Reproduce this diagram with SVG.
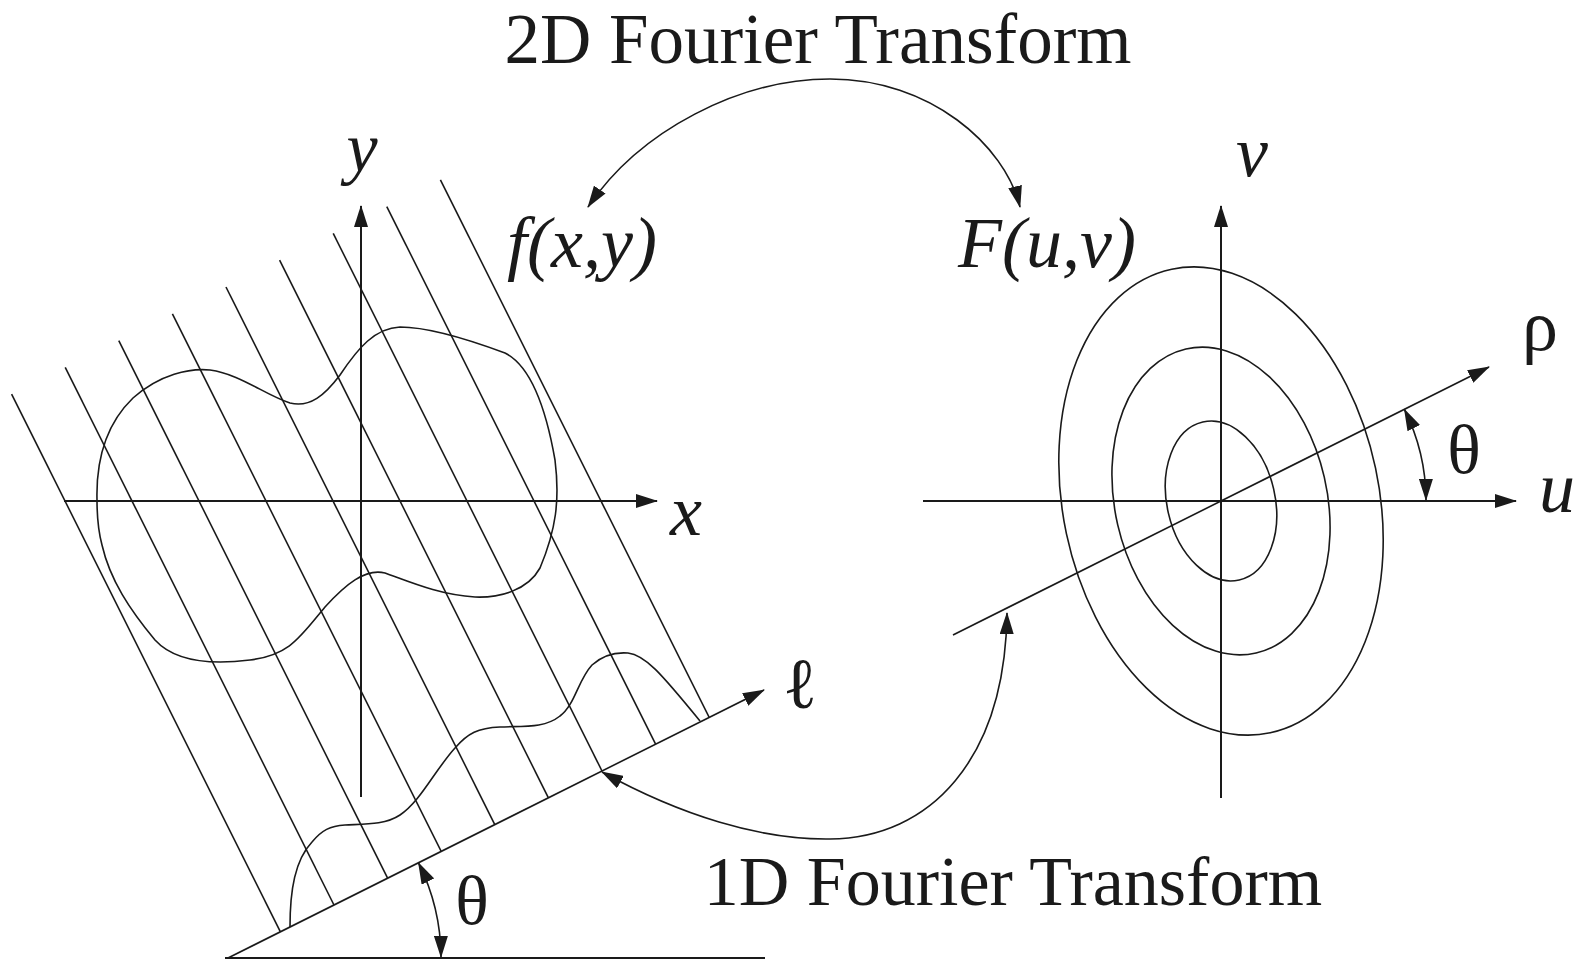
<svg xmlns="http://www.w3.org/2000/svg" width="1582" height="960" viewBox="0 0 1582 960">
<defs>
<marker id="arr" markerUnits="userSpaceOnUse" markerWidth="22" markerHeight="14" refX="21" refY="7" orient="auto-start-reverse" viewBox="0 0 22 14">
<path d="M0,0 L22,7 L0,14 Z" fill="#1a1a1a"/>
</marker>
<style>
.ax{stroke:#1a1a1a;stroke-width:2;fill:none}
.th{stroke:#1a1a1a;stroke-width:1.6;fill:none}
.lbl{font-family:"Liberation Serif","Times New Roman",serif;fill:#1a1a1a}
.it{font-style:italic}
</style>
</defs>
<rect width="1582" height="960" fill="#fff"/>

<g id="title-2d"><text class="lbl" x="818" y="63" font-size="71" text-anchor="middle">2D Fourier Transform</text></g>
<g id="title-1d"><text class="lbl" x="1013" y="905" font-size="70" text-anchor="middle">1D Fourier Transform</text></g>

<g id="spatial-domain">
<g id="hatching" class="th">
<line x1="11.6" y1="394.2" x2="280.4" y2="931.8"/>
<line x1="65.2" y1="367.4" x2="334" y2="905"/>
<line x1="118.8" y1="340.6" x2="387.6" y2="878.2"/>
<line x1="172.4" y1="313.8" x2="441.2" y2="851.4"/>
<line x1="226" y1="287" x2="494.8" y2="824.6"/>
<line x1="279.6" y1="260.2" x2="548.4" y2="797.8"/>
<line x1="333.2" y1="233.4" x2="602" y2="771"/>
<line x1="386.8" y1="206.6" x2="655.6" y2="744.2"/>
<line x1="440.4" y1="179.8" x2="709.2" y2="717.4"/>
</g>
<path id="object" class="th" d="M 97 500 C 96 460, 105 425, 133 398 C 160 374, 190 368, 210 370 C 240 374, 265 395, 290 403 C 310 408, 325 395, 340 375 C 358 348, 375 328, 400 327 C 430 327, 470 340, 505 353 C 535 368, 548 420, 555 460 C 560 500, 556 530, 540 568 C 528 590, 500 598, 475 597 C 440 595, 410 582, 385 573 C 365 568, 345 585, 325 607 C 300 637, 290 655, 250 660 C 210 665, 175 662, 155 640 C 130 610, 110 580, 102 545 C 98 530, 97 515, 97 500 Z"/>
<path id="projection" class="th" d="M 290 927 C 290 890, 295 860, 312 842 C 322 830, 330 826, 345 825 C 365 824, 385 825, 400 815 C 420 802, 435 770, 455 748 C 468 733, 478 728, 500 727 C 525 726, 545 728, 560 716 C 575 705, 578 680, 592 665 C 602 656, 615 652, 628 653 C 645 655, 660 672, 700 721"/>
<line id="x-axis" class="ax" x1="64" y1="501" x2="657" y2="501" marker-end="url(#arr)"/>
<line id="y-axis" class="ax" x1="361" y1="797" x2="361" y2="206" marker-end="url(#arr)"/>
<line id="l-axis" class="th" x1="228" y1="958" x2="764" y2="690" marker-end="url(#arr)"/>
<line id="baseline" class="ax" x1="225" y1="958" x2="765" y2="958"/>
<path id="theta-arc-left" class="th" d="M 441 957 A 213 213 0 0 0 418.5 862.8" marker-start="url(#arr)" marker-end="url(#arr)"/>
<text class="lbl it" x="362" y="171" font-size="70" text-anchor="middle">y</text>
<text class="lbl it" x="686" y="535" font-size="72" text-anchor="middle">x</text>
<text class="lbl it" x="507" y="267" font-size="72">f(x,y)</text>
<text class="lbl" x="800" y="708" font-size="72" text-anchor="middle">ℓ</text>
<text class="lbl" x="472" y="924" font-size="70" text-anchor="middle">θ</text>
</g>

<g id="frequency-domain">
<g id="contours" class="th">
<ellipse cx="1221" cy="501" rx="158" ry="237" transform="rotate(-12 1221 501)"/>
<ellipse cx="1221" cy="501" rx="106" ry="156" transform="rotate(-13 1221 501)"/>
<ellipse cx="1221" cy="501" rx="54" ry="81" transform="rotate(-13 1221 501)"/>
</g>
<line id="u-axis" class="ax" x1="923" y1="501" x2="1516" y2="501" marker-end="url(#arr)"/>
<line id="v-axis" class="ax" x1="1221" y1="798" x2="1221" y2="206" marker-end="url(#arr)"/>
<line id="rho-axis" class="th" x1="953" y1="635" x2="1489" y2="367" marker-end="url(#arr)"/>
<path id="theta-arc-right" class="th" d="M 1426 500 A 205 205 0 0 0 1404.4 409.3" marker-start="url(#arr)" marker-end="url(#arr)"/>
<text class="lbl it" x="1252" y="176" font-size="72" text-anchor="middle">v</text>
<text class="lbl it" x="1557" y="512" font-size="72" text-anchor="middle">u</text>
<text class="lbl it" x="958" y="267" font-size="72">F(u,v)</text>
<text class="lbl" x="1540" y="350" font-size="72" text-anchor="middle">ρ</text>
<text class="lbl" x="1464" y="473" font-size="70" text-anchor="middle">θ</text>
</g>

<g id="connectors" class="th">
<path id="ft-2d" d="M 588 207 C 640 130, 740 79, 830 79 C 930 79, 1005 145, 1020 207" marker-start="url(#arr)" marker-end="url(#arr)"/>
<path id="ft-1d" d="M 602 772 C 680 815, 760 840, 830 839 C 930 838, 1005 760, 1007 613" marker-start="url(#arr)" marker-end="url(#arr)"/>
</g>
</svg>
